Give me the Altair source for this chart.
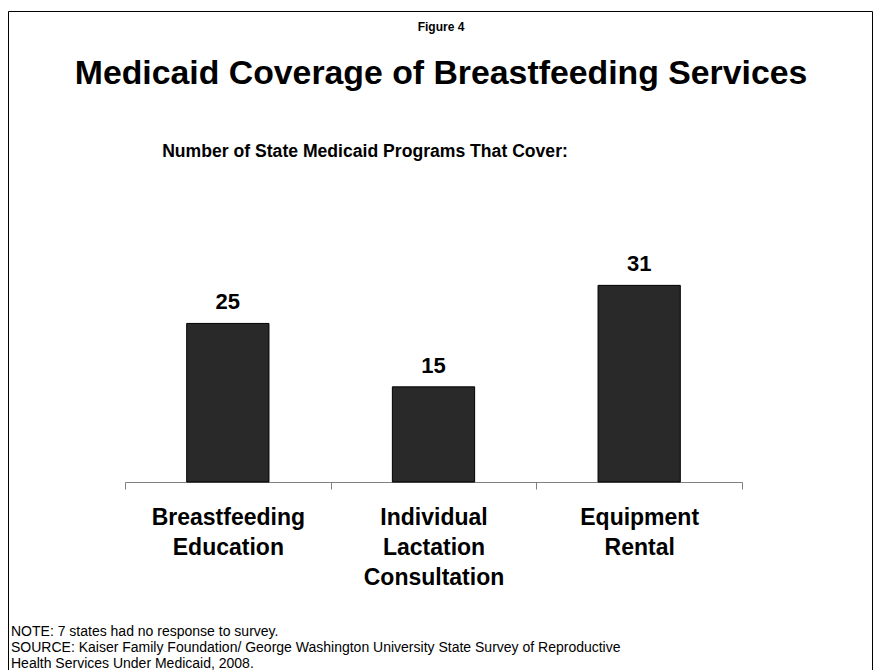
import altair as alt
import pandas as pd

categories = ["Breastfeeding|Education", "Individual|Lactation|Consultation", "Equipment|Rental"]
values = [25, 15, 31]

fig_label = "Figure 4"
title_text = "Medicaid Coverage of Breastfeeding Services"
subtitle_text = "Number of State Medicaid Programs That Cover:"
notes_text = ("NOTE: 7 states had no response to survey.\n"
              "SOURCE: Kaiser Family Foundation/ George Washington University State Survey of Reproductive\n"
              "Health Services Under Medicaid, 2008.")

FONT = "Liberation Sans, Arial, sans-serif"

df = pd.DataFrame({"cat": categories, "val": values})
one = pd.DataFrame({"k": [0]})

x_enc = alt.X("cat:N", sort=None,
              scale=alt.Scale(paddingInner=0, paddingOuter=0),
              axis=alt.Axis(title=None, labelExpr="split(datum.label, '|')",
                            tickBand="extent", domainColor="#808080",
                            tickColor="#808080", tickSize=7, tickWidth=1,
                            domainWidth=1, labelFont=FONT, labelFontSize=23,
                            labelFontWeight="bold", labelColor="black",
                            labelPadding=17, labelLineHeight=30, labelAngle=0,
                            grid=False))
y_enc = alt.Y("val:Q", scale=alt.Scale(domain=[0, 35], nice=False), axis=None)

bars = alt.Chart(df).mark_bar(width={"band": 0.4}, color="#292929",
                              stroke="#000000", strokeWidth=1).encode(x=x_enc, y=y_enc)
labels = alt.Chart(df).mark_text(dy=-14, baseline="alphabetic", font=FONT,
                                 fontSize=22, fontWeight="bold", color="black").encode(
    x=x_enc, y=y_enc, text="val:Q")

def txt(text, x, y, size, weight="bold", align="center", lh=15.5):
    return alt.Chart(one).mark_text(text=text, font=FONT, fontSize=size, fontWeight=weight,
                                    align=align, baseline="alphabetic", color="black",
                                    lineBreak="\n", lineHeight=lh).encode(
        x=alt.value(x), y=alt.value(y))

fig = txt(fig_label, 316, -229, 12)
ttl = txt(title_text, 316, -176, 33.8)
sub = txt(subtitle_text, 240, -103, 17.6)
notes = txt(notes_text, -114, 376, 14, weight="normal", align="left", lh=16)

def rule(x, y, x2, y2):
    return alt.Chart(one).mark_rule(color="black", strokeWidth=1).encode(
        x=alt.value(x), y=alt.value(y), x2=alt.value(x2), y2=alt.value(y2))

frame = [rule(-116.5, -248.5, 747.5, -248.5),
         rule(-116.5, -248.5, -116.5, 420),
         rule(747.5, -248.5, 747.5, 420)]

chart = alt.layer(bars, labels, fig, ttl, sub, notes, *frame).properties(
    width=617, height=222,
    autosize=alt.AutoSizeParams(type="none"),
    padding={"left": 117, "top": 252, "right": 131, "bottom": 188},
    background="white",
).configure_view(stroke=None)

chart.save("out.html", embed_options={"renderer": "svg", "actions": False})
